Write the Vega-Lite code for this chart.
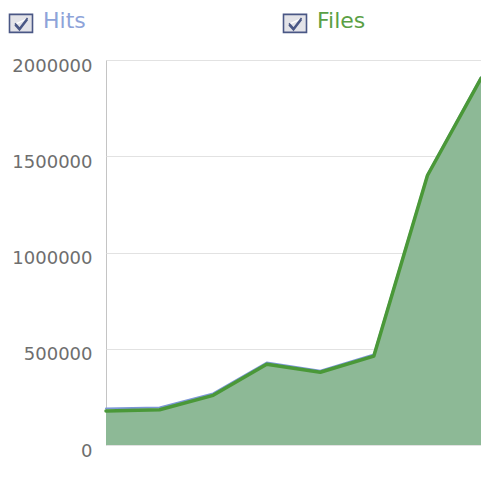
{
  "$schema": "https://vega.github.io/schema/vega-lite/v6.json",
  "width": 375,
  "height": 385,
  "autosize": {"type": "none"},
  "padding": {"left": 106, "top": 60, "right": 0, "bottom": 39},
  "background": "white",
  "config": {
    "view": {"stroke": "#c4c4c4", "strokeWidth": 1},
    "font": "DejaVu Sans"
  },
  "data": {
    "values": [
      {"t": 0, "series": "Hits", "value": 190000},
      {"t": 1, "series": "Hits", "value": 195000},
      {"t": 2, "series": "Hits", "value": 268000},
      {"t": 3, "series": "Hits", "value": 428000},
      {"t": 4, "series": "Hits", "value": 386000},
      {"t": 5, "series": "Hits", "value": 470000},
      {"t": 6, "series": "Hits", "value": 1405000},
      {"t": 7, "series": "Hits", "value": 1910000},
      {"t": 0, "series": "Files", "value": 177000},
      {"t": 1, "series": "Files", "value": 183000},
      {"t": 2, "series": "Files", "value": 258000},
      {"t": 3, "series": "Files", "value": 420000},
      {"t": 4, "series": "Files", "value": 378000},
      {"t": 5, "series": "Files", "value": 462000},
      {"t": 6, "series": "Files", "value": 1400000},
      {"t": 7, "series": "Files", "value": 1905000}
    ]
  },
  "encoding": {
    "x": {"field": "t", "type": "quantitative", "scale": {"domain": [0, 7], "nice": false, "zero": false}, "axis": null},
    "y": {
      "field": "value",
      "type": "quantitative",
      "scale": {"domain": [0, 2000000], "nice": false},
      "axis": {
        "title": null,
        "values": [0, 500000, 1000000, 1500000, 2000000],
        "format": "d",
        "domain": false,
        "ticks": false,
        "gridColor": "#e2e2e2",
        "gridWidth": 1,
        "labelColor": "#6e6e6e",
        "labelFont": "DejaVu Sans",
        "labelFontSize": 18,
        "labelPadding": 14,
        "labelOffset": 6,
        "labelBaseline": "middle"
      }
    }
  },
  "layer": [
    {
      "transform": [{"filter": "datum.series === 'Files'"}],
      "mark": {"type": "area", "color": "#8db996", "opacity": 1}
    },
    {
      "mark": {"type": "line", "opacity": 0},
      "encoding": {
        "color": {
          "field": "series",
          "type": "nominal",
          "scale": {"domain": ["Hits", "Files"], "range": ["#4a5785", "#4a5785"]},
          "legend": {
            "title": null,
            "orient": "none",
            "legendX": -96,
            "legendY": -48,
            "direction": "horizontal",
            "columns": 2,
            "columnPadding": 194,
            "symbolType": "M-1.15,-0.9H1.15V0.9H-1.15Z M-0.6,0 L-0.15,0.5 L0.65,-0.55 M-0.6,0.15 L-0.15,0.65 L0.65,-0.4",
            "symbolSize": 400,
            "symbolStrokeWidth": 1.6,
            "labelFont": "DejaVu Sans",
            "labelFontSize": 22,
            "labelOffset": 11,
            "labelLimit": 200,
            "encode": {
              "symbols": {
                "update": {
                  "fill": {"value": "#e3e3e8"},
                  "strokeWidth": {"value": 1.6},
                  "opacity": {"value": 1},
                  "strokeOpacity": {"value": 1},
                  "fillOpacity": {"value": 1}
                }
              },
              "labels": {
                "update": {
                  "fill": {"signal": "datum.label === 'Hits' ? '#8ea3d9' : '#5aa044'"},
                  "dy": {"value": -2}
                }
              }
            }
          }
        }
      }
    },
    {
      "mark": {"type": "line", "strokeCap": "round", "strokeJoin": "round"},
      "encoding": {
        "detail": {"field": "series", "type": "nominal"},
        "stroke": {
          "condition": {"test": "datum.series === 'Hits'", "value": "#7c97d6"},
          "value": "#4a9838"
        },
        "strokeWidth": {
          "condition": {"test": "datum.series === 'Hits'", "value": 2},
          "value": 3.5
        },
        "order": {"field": "series", "sort": "descending"}
      }
    }
  ]
}
